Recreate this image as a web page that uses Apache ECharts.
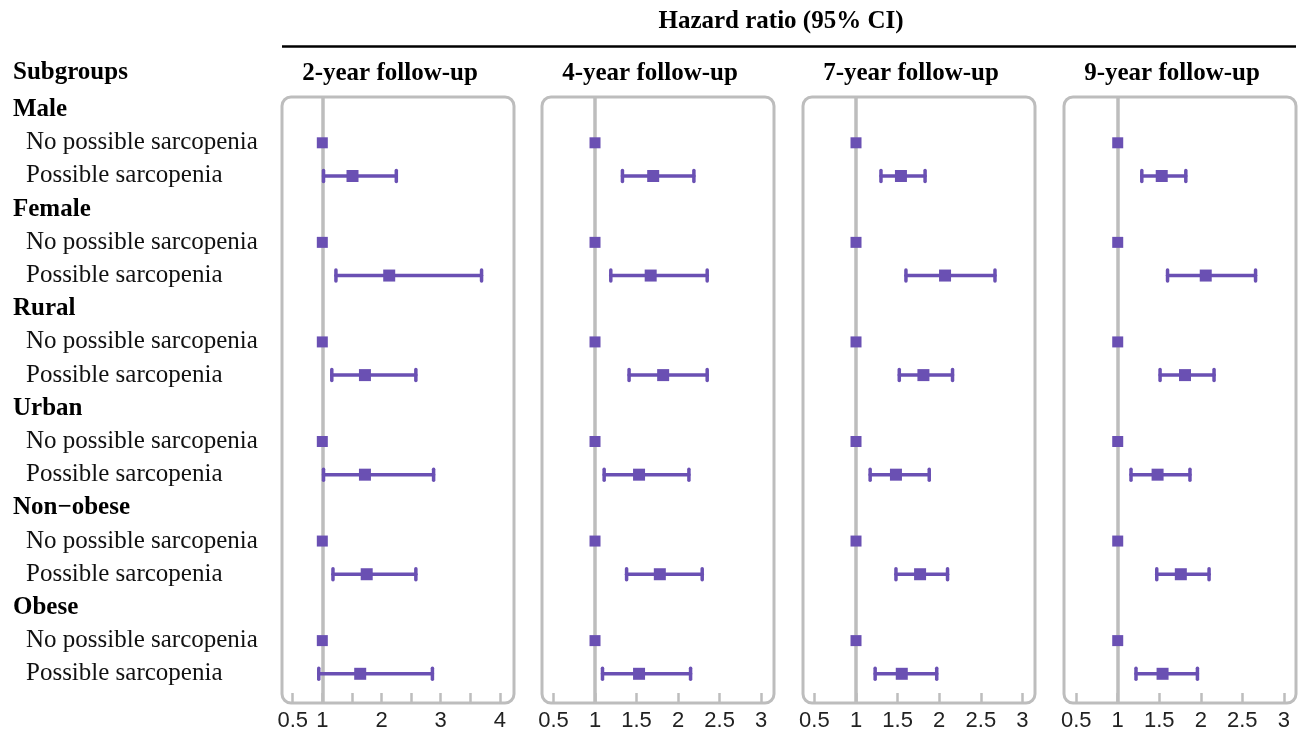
<!DOCTYPE html>
<html>
<head>
<meta charset="utf-8">
<script src="https://cdn.jsdelivr.net/npm/echarts@6/dist/echarts.min.js"></script>
<style>html,body{margin:0;padding:0;background:#fff;}#c{width:1306px;height:735px;}</style>
</head>
<body>
<div id="c"></div>
<script>
// ---- data ----
const subgroups = ['Male', 'Female', 'Rural', 'Urban', 'Non\u2212obese', 'Obese'];
const levels = ['No possible sarcopenia', 'Possible sarcopenia'];
const panelTitles = ['2-year follow-up', '4-year follow-up', '7-year follow-up', '9-year follow-up'];
const mainTitle = 'Hazard ratio (95% CI)';
const leftHeader = 'Subgroups';

// reference group (No possible sarcopenia) HR
const refHR = [1, 1, 1, 1, 1, 1];

// Possible sarcopenia: HR, lower, upper per follow-up
const hr2 = [1.51, 2.13, 1.72, 1.72, 1.75, 1.64];
const lo2 = [1.02, 1.23, 1.16, 1.02, 1.18, 0.94];
const hi2 = [2.25, 3.69, 2.58, 2.88, 2.58, 2.86];

const hr4 = [1.70, 1.67, 1.82, 1.53, 1.78, 1.53];
const lo4 = [1.33, 1.19, 1.41, 1.11, 1.38, 1.09];
const hi4 = [2.19, 2.35, 2.35, 2.13, 2.29, 2.15];

const hr7 = [1.54, 2.07, 1.81, 1.48, 1.77, 1.55];
const lo7 = [1.30, 1.60, 1.52, 1.17, 1.48, 1.23];
const hi7 = [1.83, 2.67, 2.16, 1.88, 2.10, 1.97];

const hr9 = [1.53, 2.06, 1.81, 1.48, 1.76, 1.54];
const lo9 = [1.29, 1.60, 1.51, 1.16, 1.47, 1.22];
const hi9 = [1.82, 2.66, 2.16, 1.87, 2.10, 1.96];

const ticks2 = [0.5, 1, 1.5, 2, 2.5, 3, 3.5, 4];
const labels2 = [0.5, 1, 2, 3, 4];
const ticksN = [0.5, 1, 1.5, 2, 2.5, 3];
const labelsN = [0.5, 1, 1.5, 2, 2.5, 3];

// ---- layout / style ----
const PURPLE = '#6a50b3';
const GRAY = '#bdbdbd';
const SERIF = "'Liberation Serif','Times New Roman',serif";
const SANS = "'Liberation Sans',Arial,sans-serif";
const panelLeft = [282, 542, 803, 1064];
const panelW = 232;
const boxTop = 97, boxBottom = 703;
const xRanges = [[0.319, 4.238], [0.362, 3.154], [0.363, 3.151], [0.353, 3.147]];

const panels = [
  {hr: hr2, lo: lo2, hi: hi2, ticks: ticks2, labels: labels2},
  {hr: hr4, lo: lo4, hi: hi4, ticks: ticksN, labels: labelsN},
  {hr: hr7, lo: lo7, hi: hi7, ticks: ticksN, labels: labelsN},
  {hr: hr9, lo: lo9, hi: hi9, ticks: ticksN, labels: labelsN}
];

// row labels (18 rows)
const rowLabels = [];
subgroups.forEach(g => { rowLabels.push(g); levels.forEach(l => rowLabels.push(l)); });

const grids = [], xAxes = [], yAxes = [], series = [], graphics = [];

function ciRender(params, api) {
  const a = api.coord([api.value(0), api.value(2)]);
  const b = api.coord([api.value(1), api.value(2)]);
  const c = 5.5;
  const st = {stroke: PURPLE, lineWidth: 3.5, lineCap: 'round'};
  return {type: 'group', children: [
    {type: 'line', shape: {x1: a[0], y1: a[1], x2: b[0], y2: b[1]}, style: st},
    {type: 'line', shape: {x1: a[0], y1: a[1] - c, x2: a[0], y2: a[1] + c}, style: st},
    {type: 'line', shape: {x1: b[0], y1: b[1] - c, x2: b[0], y2: b[1] + c}, style: st}
  ]};
}

panels.forEach((p, k) => {
  grids.push({left: panelLeft[k], width: panelW, top: boxTop, bottom: 735 - boxBottom});
  xAxes.push({
    type: 'value', gridIndex: k, min: xRanges[k][0], max: xRanges[k][1], position: 'bottom',
    axisLine: {show: false, onZero: false},
    splitLine: {show: false},
    axisTick: {show: true, inside: true, length: 10, customValues: p.ticks, lineStyle: {color: GRAY, width: 2.5}},
    axisLabel: {show: true, customValues: p.labels, margin: 7, fontFamily: SANS, fontSize: 22, color: '#222'}
  });
  yAxes.push({type: 'value', gridIndex: k, inverse: true, min: -0.38, max: 17.88, show: false});

  series.push({
    type: 'line', xAxisIndex: k, yAxisIndex: k, data: [], silent: true, z: 1,
    markLine: {silent: true, z: 1, symbol: 'none', label: {show: false},
      lineStyle: {color: GRAY, width: 3.5, type: 'solid'}, data: [{xAxis: 1}]}
  });
  series.push({
    type: 'custom', xAxisIndex: k, yAxisIndex: k, z: 3,
    renderItem: ciRender, encode: {x: [0, 1], y: 2},
    data: p.hr.map((v, i) => [p.lo[i], p.hi[i], i * 3 + 2])
  });
  series.push({
    type: 'scatter', xAxisIndex: k, yAxisIndex: k, z: 6, symbol: 'rect', symbolSize: 12,
    itemStyle: {color: PURPLE, opacity: 1},
    data: p.hr.map((v, i) => [v, i * 3 + 2])
  });
  series.push({
    type: 'scatter', xAxisIndex: k, yAxisIndex: k, z: 6, symbol: 'rect', symbolSize: 11,
    itemStyle: {color: PURPLE, opacity: 1},
    data: refHR.map((v, i) => [v, i * 3 + 1])
  });

  graphics.push({
    type: 'rect', z: 0, silent: true,
    shape: {x: panelLeft[k], y: boxTop, width: panelW, height: boxBottom - boxTop, r: 9},
    style: {fill: 'none', stroke: GRAY, lineWidth: 3}
  });
  graphics.push({
    type: 'text', x: panelLeft[k] + panelW / 2 - 8, y: 74,
    style: {text: panelTitles[k], font: 'bold 25px ' + SERIF, fill: '#000', textAlign: 'center', textVerticalAlign: 'middle'}
  });
});

// left label grid
const rowH = 33.2, row0 = 109.5;
grids.push({left: 282, width: 1, top: row0 - rowH / 2, height: rowH * 18});
xAxes.push({type: 'value', gridIndex: 4, show: false});
yAxes.push({
  type: 'category', gridIndex: 4, inverse: true, data: rowLabels,
  axisLine: {show: false}, axisTick: {show: false},
  axisLabel: {
    interval: 0, margin: 269, align: 'left',
    formatter: (v, i) => (i % 3 === 0 ? '{h|' + v + '}' : '{s|' + v + '}'),
    rich: {
      h: {fontFamily: SERIF, fontWeight: 'bold', fontSize: 25, color: '#000'},
      s: {fontFamily: SERIF, fontSize: 25, color: '#111', padding: [0, 0, 0, 13]}
    }
  }
});

graphics.push({
  type: 'text', x: 781, y: 22,
  style: {text: mainTitle, font: 'bold 25px ' + SERIF, fill: '#000', textAlign: 'center', textVerticalAlign: 'middle'}
});
graphics.push({
  type: 'line', shape: {x1: 282, y1: 46.5, x2: 1296, y2: 46.5},
  style: {stroke: '#000', lineWidth: 2.5}
});
graphics.push({
  type: 'text', x: 13, y: 73,
  style: {text: leftHeader, font: 'bold 25px ' + SERIF, fill: '#000', textAlign: 'left', textVerticalAlign: 'middle'}
});

const chart = echarts.init(document.getElementById('c'), null, {renderer: 'canvas'});
chart.setOption({
  animation: false,
  backgroundColor: '#fff',
  grid: grids, xAxis: xAxes, yAxis: yAxes, series: series,
  graphic: graphics
});
</script>
</body>
</html>
